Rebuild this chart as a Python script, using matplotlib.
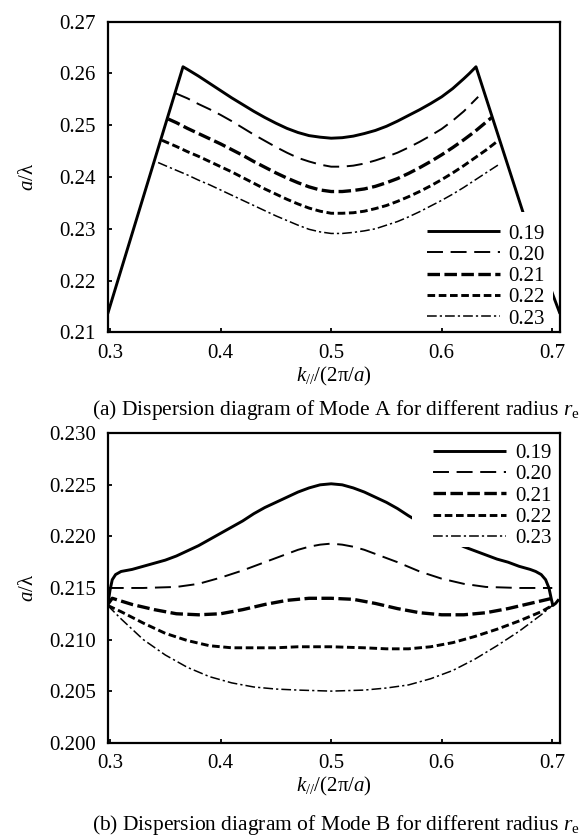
import matplotlib
matplotlib.use("Agg")
import matplotlib.pyplot as plt
from matplotlib.patches import Rectangle

plt.rcParams['font.family'] = ['Liberation Serif', 'DejaVu Serif']
plt.rcParams['mathtext.fontset'] = 'custom'
plt.rcParams['mathtext.rm'] = 'Liberation Serif'
plt.rcParams['mathtext.it'] = 'Liberation Serif:italic'
plt.rcParams['lines.scale_dashes'] = False

# ---------------- data: Mode A ----------------
labels = ["0.19", "0.20", "0.21", "0.22", "0.23"]

kA_019 = [0.2979, 0.366, 0.37, 0.38, 0.39, 0.40, 0.41, 0.42, 0.43, 0.44, 0.45, 0.46, 0.47, 0.48, 0.49, 0.50,
          0.51, 0.52, 0.53, 0.54, 0.55, 0.56, 0.57, 0.58, 0.59, 0.60, 0.61, 0.62, 0.625, 0.631, 0.6735, 0.7010, 0.7045, 0.707]
yA_019 = [0.2136, 0.2613, 0.2608, 0.2595, 0.2581, 0.2567, 0.2553, 0.2540, 0.2527, 0.2515, 0.2504, 0.2494, 0.2486, 0.2480, 0.2477, 0.2475,
          0.2476, 0.2479, 0.2484, 0.2490, 0.2498, 0.2508, 0.2519, 0.2530, 0.2542, 0.2555, 0.2571, 0.2590, 0.2600, 0.2613, 0.2332, 0.2170, 0.2150, 0.2136]

kA_020 = [0.359, 0.37, 0.38, 0.39, 0.40, 0.41, 0.42, 0.43, 0.44, 0.45, 0.46, 0.47, 0.48, 0.49, 0.50,
          0.51, 0.52, 0.53, 0.54, 0.55, 0.56, 0.57, 0.58, 0.59, 0.60, 0.61, 0.62, 0.633]
yA_020 = [0.2562, 0.2552, 0.2541, 0.2531, 0.2520, 0.2508, 0.2495, 0.2482, 0.2470, 0.2458, 0.2447, 0.2437, 0.2430, 0.2424, 0.2420,
          0.2420, 0.2422, 0.2426, 0.2432, 0.2439, 0.2447, 0.2457, 0.2468, 0.2480, 0.2493, 0.2509, 0.2527, 0.2555]

kA_021 = [0.3527, 0.36, 0.37, 0.38, 0.39, 0.40, 0.41, 0.42, 0.43, 0.44, 0.45, 0.46, 0.47, 0.48, 0.49, 0.50,
          0.51, 0.52, 0.53, 0.54, 0.55, 0.56, 0.57, 0.58, 0.59, 0.60, 0.61, 0.62, 0.63, 0.6452]
yA_021 = [0.2512, 0.2505, 0.2494, 0.2484, 0.2474, 0.2464, 0.2453, 0.2442, 0.2430, 0.2419, 0.2408, 0.2398, 0.2389, 0.2381, 0.2375, 0.2372,
          0.2372, 0.2374, 0.2377, 0.2382, 0.2389, 0.2397, 0.2407, 0.2418, 0.2430, 0.2443, 0.2457, 0.2472, 0.2488, 0.2515]

kA_022 = [0.347, 0.36, 0.37, 0.38, 0.39, 0.40, 0.41, 0.42, 0.43, 0.44, 0.45, 0.46, 0.47, 0.48, 0.49, 0.50,
          0.51, 0.52, 0.53, 0.54, 0.55, 0.56, 0.57, 0.58, 0.59, 0.60, 0.61, 0.62, 0.63, 0.64, 0.6497]
yA_022 = [0.2471, 0.2459, 0.2449, 0.2440, 0.2430, 0.2420, 0.2410, 0.2399, 0.2388, 0.2377, 0.2367, 0.2357, 0.2348, 0.2340, 0.2334, 0.2330,
          0.2330, 0.2331, 0.2334, 0.2339, 0.2345, 0.2353, 0.2362, 0.2372, 0.2383, 0.2395, 0.2408, 0.2422, 0.2437, 0.2452, 0.2468]

kA_023 = [0.3435, 0.35, 0.36, 0.37, 0.38, 0.39, 0.40, 0.41, 0.42, 0.43, 0.44, 0.45, 0.46, 0.47, 0.48, 0.49, 0.50,
          0.51, 0.52, 0.53, 0.54, 0.55, 0.56, 0.57, 0.58, 0.59, 0.60, 0.61, 0.62, 0.63, 0.64, 0.653]
yA_023 = [0.2428, 0.2422, 0.2413, 0.2404, 0.2394, 0.2385, 0.2375, 0.2365, 0.2355, 0.2345, 0.2335, 0.2325, 0.2316, 0.2307, 0.2299, 0.2294, 0.2291,
          0.2291, 0.2293, 0.2296, 0.2300, 0.2307, 0.2314, 0.2323, 0.2333, 0.2344, 0.2355, 0.2367, 0.2380, 0.2394, 0.2408, 0.2426]

# ---------------- data: Mode B ----------------
kB_019 = [0.2979, 0.300, 0.302, 0.305, 0.31, 0.32, 0.33, 0.34, 0.35, 0.36, 0.37, 0.38, 0.39, 0.40, 0.41, 0.42, 0.43, 0.44, 0.45,
          0.46, 0.47, 0.48, 0.49, 0.50, 0.51, 0.52, 0.53, 0.54, 0.55, 0.56, 0.57, 0.60, 0.62, 0.63, 0.64, 0.65, 0.66, 0.67,
          0.68, 0.685, 0.69, 0.694, 0.697, 0.699, 0.7005, 0.703, 0.706]
yB_019 = [0.2133, 0.2148, 0.2158, 0.2163, 0.2166, 0.2168, 0.2171, 0.2174, 0.2177, 0.2181, 0.2186, 0.2191, 0.2197, 0.2203, 0.2209, 0.2215, 0.2222, 0.2228, 0.2233,
          0.2238, 0.2243, 0.2247, 0.2250, 0.2251, 0.2250, 0.2247, 0.2243, 0.2238, 0.2233, 0.2227, 0.2220, 0.2201, 0.2190, 0.2186, 0.2182, 0.2178, 0.2175, 0.2171,
          0.2168, 0.2166, 0.2163, 0.2158, 0.2150, 0.2140, 0.2133, 0.2135, 0.2139]

kB_020 = [0.2979, 0.33, 0.36, 0.38, 0.40, 0.42, 0.44, 0.46, 0.47, 0.48, 0.49, 0.50, 0.51, 0.52, 0.53, 0.54, 0.56, 0.58, 0.60, 0.62, 0.64, 0.67, 0.70]
yB_020 = [0.2150, 0.2150, 0.2151, 0.2154, 0.2160, 0.2167, 0.2175, 0.2183, 0.2187, 0.2190, 0.2192, 0.2193, 0.2192, 0.2190, 0.2187, 0.2183, 0.2175, 0.2166, 0.2159, 0.2154, 0.2151, 0.2150, 0.2150]

kB_021 = [0.2979, 0.302, 0.32, 0.34, 0.36, 0.38, 0.40, 0.42, 0.44, 0.46, 0.48, 0.50, 0.52, 0.54, 0.56, 0.58, 0.60, 0.62, 0.64, 0.66, 0.68, 0.70]
yB_021 = [0.2134, 0.2140, 0.2134, 0.2129, 0.2125, 0.2124, 0.2125, 0.2129, 0.2134, 0.2138, 0.2140, 0.2140, 0.2139, 0.2135, 0.2130, 0.2126, 0.2124, 0.2124, 0.2126, 0.2130, 0.2135, 0.2140]

kB_022 = [0.2979, 0.31, 0.33, 0.35, 0.37, 0.39, 0.41, 0.43, 0.45, 0.47, 0.50, 0.53, 0.55, 0.57, 0.59, 0.61, 0.63, 0.65, 0.67, 0.69, 0.70]
yB_022 = [0.2133, 0.2127, 0.2116, 0.2106, 0.2099, 0.2094, 0.2092, 0.2092, 0.2092, 0.2093, 0.2093, 0.2092, 0.2091, 0.2091, 0.2093, 0.2097, 0.2103, 0.2110, 0.2118, 0.2127, 0.2133]

kB_023 = [0.2979, 0.31, 0.33, 0.35, 0.37, 0.39, 0.41, 0.43, 0.45, 0.47, 0.50, 0.53, 0.55, 0.57, 0.59, 0.61, 0.63, 0.65, 0.67, 0.69, 0.70]
yB_023 = [0.2133, 0.2120, 0.2100, 0.2085, 0.2073, 0.2064, 0.2058, 0.2054, 0.2052, 0.2051, 0.2050, 0.2051, 0.2053, 0.2056, 0.2062, 0.2070, 0.2081, 0.2094, 0.2108, 0.2124, 0.2133]

xticks = [0.3, 0.4, 0.5, 0.6, 0.7]
xticklabels = ["0.3", "0.4", "0.5", "0.6", "0.7"]
yticksA = [0.21, 0.22, 0.23, 0.24, 0.25, 0.26, 0.27]
yticklabelsA = ["0.21", "0.22", "0.23", "0.24", "0.25", "0.26", "0.27"]
yticksB = [0.200, 0.205, 0.210, 0.215, 0.220, 0.225, 0.230]
yticklabelsB = ["0.200", "0.205", "0.210", "0.215", "0.220", "0.225", "0.230"]

captionA = "(a) Dispersion diagram of Mode A for different radius $r_{\\rm e}$"
captionB = "(b) Dispersion diagram of Mode B for different radius $r_{\\rm e}$"

# ---------------- styles ----------------
styles = [
    dict(lw=2.1, ls='-'),
    dict(lw=1.4, dashes=(11.5, 5.5)),
    dict(lw=2.4, dashes=(9.0, 3.2)),
    dict(lw=2.1, dashes=(5.5, 2.6)),
    dict(lw=1.1, dashes=(7.0, 2.2, 1.6, 2.2)),
]

FS = 15
fig = plt.figure(figsize=(5.88, 8.39), dpi=100)
axA = fig.add_axes([0.1832, 0.6039, 0.7692, 0.3702])
axB = fig.add_axes([0.1832, 0.1148, 0.7692, 0.3688])

seriesA = [(kA_019, yA_019), (kA_020, yA_020), (kA_021, yA_021), (kA_022, yA_022), (kA_023, yA_023)]
seriesB = [(kB_019, yB_019), (kB_020, yB_020), (kB_021, yB_021), (kB_022, yB_022), (kB_023, yB_023)]


def setup(ax, series, yticks, yticklabels, ylim, legend_anchor, rect):
    for (k, y), st, lab in zip(series, styles, labels):
        ax.plot(k, y, color='black', label=lab, solid_capstyle='butt', dash_capstyle='butt',
                solid_joinstyle='round', zorder=2, **st)
    ax.set_xlim(0.2979, 0.707)
    ax.set_ylim(*ylim)
    ax.set_xticks(xticks)
    ax.set_xticklabels(xticklabels)
    ax.set_yticks(yticks)
    ax.set_yticklabels(yticklabels)
    ax.tick_params(direction='in', length=3, width=1.3, labelsize=FS, pad=8.5)
    for s in ax.spines.values():
        s.set_linewidth(1.6)
    ax.set_xlabel("$k_{//}$/(2π/$a$)", fontsize=FS, labelpad=1)
    ax.set_ylabel("$a$/λ", fontsize=FS)
    ax.yaxis.set_label_coords(-0.155, 0.5)
    # white legend backdrop
    ax.add_patch(Rectangle((rect[0], rect[1]), rect[2] - rect[0], rect[3] - rect[1],
                           transform=ax.transAxes, facecolor='white', edgecolor='none', zorder=2.2))
    leg = ax.legend(loc='upper left', bbox_to_anchor=legend_anchor, frameon=False,
                    fontsize=FS, handlelength=3.5, handletextpad=0.42,
                    labelspacing=0.08, borderpad=0, borderaxespad=0)
    leg.set_zorder(5)


setup(axA, seriesA, yticksA, yticklabelsA, (0.21, 0.27), (0.7053, 0.349), (0.70, 0.02, 0.984, 0.387))
setup(axB, seriesB, yticksB, yticklabelsB, (0.200, 0.230), (0.72, 0.967), (0.673, 0.6325, 0.9854, 0.995))

fig.text(0.5718, 0.5113, captionA, ha='center', va='center', fontsize=15.5)
fig.text(0.5718, 0.0167, captionB, ha='center', va='center', fontsize=15.5)

fig.savefig("out.png", dpi=100)
